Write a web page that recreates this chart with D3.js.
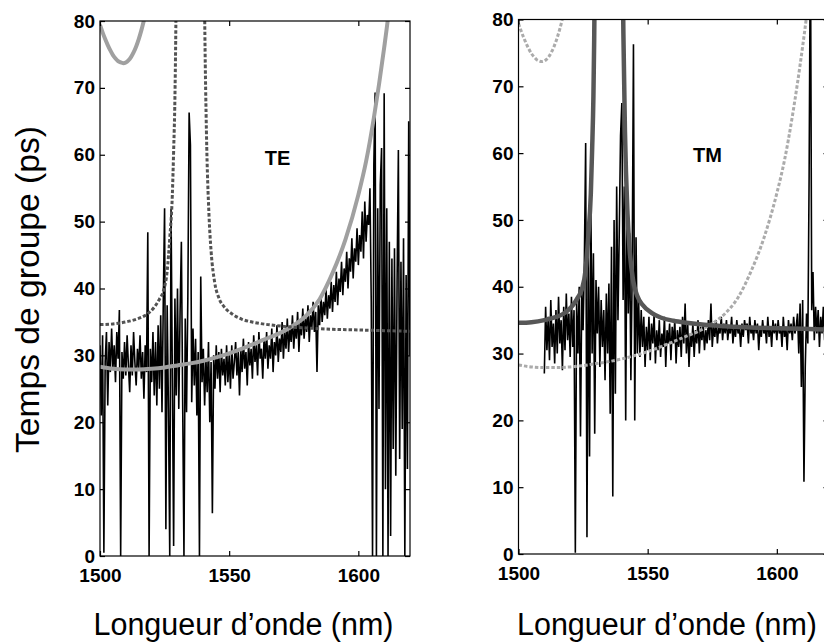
<!DOCTYPE html>
<html>
<head>
<meta charset="utf-8">
<script src="https://cdn.jsdelivr.net/npm/d3@7/dist/d3.min.js"></script>
<style>
  html, body { margin: 0; padding: 0; background: #fff; }
  svg { display: block; }
</style>
</head>
<body>
<svg id="chart" width="824" height="642"></svg>
<script>
// ---- axis ticks ----
const wavelengthDomain = [1500, 1620];
const delayDomain = [0, 80];
const wavelengthTicks = [1500, 1550, 1600];
const delayTicks = [0, 10, 20, 30, 40, 50, 60, 70, 80];

// ---- measured group delay (ps), sampled every 0.5 nm ----
const sampleStep = 0.5;
const teStart = 1500;
const teMeasured = [
  31.5, 21.0, 33.0, 0.5, 29.0, 33.5, 22.5, 32.0, 27.5, 34.0,
  28.0, 31.5, 26.0, 33.5, 29.5, 36.8, 0.0, 30.5, 26.5, 32.0,
  27.0, 33.0, 28.5, 24.5, 31.5, 27.0, 33.5, 29.0, 25.5, 31.0,
  28.0, 33.0, 26.5, 30.5, 23.5, 31.5, 27.5, 48.4, 0.0, 31.0,
  26.0, 33.5, 24.0, 32.0, 22.5, 34.5, 25.0, 36.0, 21.5, 38.0,
  52.0, 4.0, 37.5, 22.0, 0.0, 51.9, 27.0, 1.5, 38.5, 24.0,
  40.0, 22.0, 36.5, 47.0, 23.0, 0.0, 35.5, 21.5, 38.5, 66.3,
  61.5, 23.0, 34.0, 25.5, 32.5, 21.0, 30.5, 0.0, 41.8, 26.0,
  31.0, 22.5, 29.5, 24.5, 32.0, 20.0, 29.0, 6.4, 30.0, 25.0,
  31.5, 26.5, 30.5, 24.5, 31.0, 27.0, 29.5, 25.5, 31.5, 26.0,
  30.0, 25.0, 31.5, 26.5, 29.0, 32.0, 27.0, 30.5, 24.0, 31.0,
  27.5, 32.5, 28.0, 30.5, 25.5, 32.0, 28.5, 31.0, 26.5, 33.0,
  29.0, 31.5, 27.0, 33.5, 29.5, 31.0, 26.5, 32.5, 29.5, 33.5,
  28.0, 31.5, 29.5, 34.0, 27.5, 32.0, 30.0, 34.5, 29.0, 32.5,
  30.5, 35.0, 29.5, 33.5, 31.0, 35.5, 30.5, 34.0, 32.0, 36.0,
  31.0, 34.5, 32.5, 36.5, 30.5, 35.0, 33.0, 37.0, 32.5, 35.5,
  33.5, 37.5, 32.0, 36.0, 34.0, 38.0, 33.5, 36.5, 27.5, 37.5,
  34.5, 39.0, 35.0, 38.0, 36.0, 40.0, 35.5, 39.0, 37.0, 41.0,
  36.5, 40.5, 38.0, 42.5, 37.5, 41.5, 39.5, 44.0, 39.0, 43.0,
  41.0, 45.5, 40.0, 44.5, 42.5, 47.5, 41.5, 46.0, 44.0, 49.0,
  43.5, 48.0, 45.5, 51.5, 44.5, 53.0, 47.0, 51.0, 49.5, 55.0,
  38.0, 0.0, 58.5, 69.3, 0.0, 52.0, 22.0, 55.5, 61.0, 0.0,
  69.2, 10.0, 52.0, 0.0, 47.0, 3.0, 44.5, 16.0, 46.0, 12.0,
  41.0, 60.7, 14.5, 44.0, 19.0, 47.5, 0.0, 42.0, 13.0, 65.0,
  30.0
];

const tmStart = 1510;
const tmMeasured = [
  27.0, 37.0, 30.5, 35.5, 29.0, 38.0, 31.0, 34.5, 28.5, 36.5,
  30.0, 38.5, 31.5, 35.0, 27.5, 37.0, 30.5, 39.0, 32.0, 36.0,
  29.5, 38.5, 31.0, 36.5, 0.2, 38.0, 30.0, 40.0, 17.6, 39.5,
  33.5, 44.0, 61.5, 2.5, 47.0, 14.6, 52.6, 30.0, 45.0, 18.0,
  41.0, 33.0, 40.0, 28.0, 38.0, 31.0, 36.5, 26.0, 39.0, 30.0,
  40.5, 21.0, 46.0, 8.6, 50.0, 24.0, 55.0, 35.0, 48.0, 62.6,
  67.5, 38.0, 55.0, 20.0, 53.0, 36.0, 48.0, 26.0, 42.0, 76.3,
  20.0, 47.4, 30.0, 38.0, 29.5, 36.5, 31.0, 35.5, 28.0, 34.0,
  30.5, 35.5, 29.0, 34.5, 31.5, 36.0, 28.5, 33.5, 30.5, 35.0,
  29.5, 33.0, 31.0, 35.5, 28.0, 33.5, 31.5, 34.5, 29.0, 34.0,
  31.5, 35.0, 28.5, 33.5, 31.0, 34.0, 29.5, 35.5, 31.5, 37.5,
  30.0, 34.5, 28.0, 33.0, 31.0, 34.5, 29.5, 33.5, 31.5, 35.0,
  30.0, 34.0, 32.0, 34.5, 30.5, 33.5, 31.5, 35.0, 32.0, 37.5,
  31.0, 34.0, 32.5, 35.0, 31.5, 34.0, 33.0, 35.5, 32.0, 34.5,
  33.0, 35.0, 32.0, 34.0, 33.0, 35.5, 31.5, 34.0, 32.5, 35.0,
  33.0, 34.0, 31.0, 34.5, 32.5, 35.0, 33.5, 34.5, 31.5, 35.5,
  33.0, 34.0, 32.0, 35.0, 33.0, 34.5, 30.5, 34.0, 32.5, 35.0,
  33.0, 34.0, 31.5, 35.5, 32.5, 34.0, 31.0, 35.0, 33.0, 34.5,
  32.0, 35.0, 33.0, 34.0, 31.0, 35.5, 32.5, 34.0, 30.5, 35.0,
  33.0, 34.5, 32.0, 35.5, 33.0, 34.0, 36.0, 30.0, 37.5, 25.0,
  38.0, 10.8, 28.0, 36.0, 31.5, 56.6, 95.0, 36.5, 42.2, 32.0,
  37.0, 33.0, 36.5, 31.0, 35.5, 33.0, 37.0, 32.0, 35.0, 30.5,
  34.5
];

// ---- model curves [wavelength nm, group delay ps] ----
const teModelUpper = [
  [1500, 79.4], [1501, 78.3], [1502, 77.3], [1503, 76.4], [1504, 75.6],
  [1505, 74.9], [1506, 74.4], [1507, 74.0], [1508, 73.8], [1509, 73.7],
  [1510, 73.8], [1511, 74.1], [1512, 74.6], [1513, 75.3], [1514, 76.2],
  [1515, 77.3], [1516, 78.6], [1517, 80.1], [1518, 81.8]
];
const teModelLower = [
  [1500, 28.3], [1505, 28.0], [1510, 27.9], [1515, 27.9], [1520, 28.0],
  [1525, 28.2], [1530, 28.5], [1535, 28.8], [1540, 29.2], [1545, 29.7],
  [1550, 30.3], [1555, 31.0], [1560, 31.8], [1565, 32.6], [1570, 33.4],
  [1575, 34.5], [1580, 36.0], [1585, 38.4], [1590, 42.3], [1595, 47.3],
  [1600, 54.0], [1603, 59.0], [1606, 65.5], [1608, 70.5], [1610, 76.0],
  [1611.5, 80.5], [1612.5, 84.0]
];
const tmModelLeft = [
  [1500, 34.6], [1505, 34.7], [1510, 35.0], [1514, 35.4], [1518, 36.1],
  [1521, 37.2], [1523, 38.4], [1524.5, 39.6], [1526, 42.6], [1527, 47.5],
  [1528, 54.0], [1528.5, 60.5], [1529, 68.5], [1529.3, 77.0], [1529.5, 85.0]
];
const tmModelRight = [
  [1540.4, 85.0], [1540.6, 78.0], [1541.2, 63.4], [1542.2, 50.9], [1543, 45.6],
  [1544.4, 40.9], [1546, 38.6], [1548, 37.3], [1551.5, 36.1], [1555, 35.4],
  [1560, 34.9], [1565, 34.6], [1572, 34.3], [1580, 34.1], [1590, 33.9],
  [1600, 33.8], [1610, 33.7], [1620, 33.6]
];

const panelLabels = ["TE", "TM"];
const xTitle = "Longueur d\u2019onde (nm)";
const yTitle = "Temps de groupe (ps)";

// ---- layout ----
const svg = d3.select("#chart");
const fontFamily = "'Liberation Sans', Arial, Helvetica, sans-serif";

const panels = [
  {
    id: "te", label: panelLabels[0], left: 100, right: 410, top: 21, bottom: 556,
    labelPos: [277.5, 165], titleX: 243.5,
    measured: teMeasured, start: teStart,
    curves: [
      { data: teModelUpper, color: "#a0a0a0", width: 4, dash: null },
      { data: teModelLower, color: "#a0a0a0", width: 4, dash: null },
      { data: tmModelLeft, color: "#535353", width: 3, dash: "3.5,2" },
      { data: tmModelRight, color: "#535353", width: 3, dash: "3.5,2" }
    ]
  },
  {
    id: "tm", label: panelLabels[1], left: 518.5, right: 828.5, top: 19.5, bottom: 554,
    labelPos: [707.5, 161.5], titleX: 667,
    measured: tmMeasured, start: tmStart,
    curves: [
      { data: teModelUpper, color: "#ababab", width: 3, dash: "3.5,2" },
      { data: teModelLower, color: "#ababab", width: 3, dash: "3.5,2" },
      { data: tmModelLeft, color: "#575757", width: 4.5, dash: null },
      { data: tmModelRight, color: "#575757", width: 4.5, dash: null }
    ]
  }
];

panels.forEach(p => {
  const x = d3.scaleLinear().domain(wavelengthDomain).range([p.left, p.right]);
  const y = d3.scaleLinear().domain(delayDomain).range([p.bottom, p.top]);

  svg.append("clipPath").attr("id", "clip-" + p.id)
    .append("rect")
    .attr("x", p.left).attr("y", p.top)
    .attr("width", p.right - p.left).attr("height", p.bottom - p.top);

  const plot = svg.append("g").attr("clip-path", "url(#clip-" + p.id + ")");

  // measured trace
  const traceLine = d3.line()
    .x((d, i) => x(p.start + i * sampleStep))
    .y(d => y(d));
  plot.append("path")
    .datum(p.measured)
    .attr("d", traceLine)
    .attr("fill", "none")
    .attr("stroke", "#000")
    .attr("stroke-width", 1.6);

  // model curves
  const modelLine = d3.line()
    .x(d => x(d[0]))
    .y(d => y(d[1]))
    .curve(d3.curveMonotoneX);
  p.curves.forEach(c => {
    plot.append("path")
      .datum(c.data)
      .attr("d", modelLine)
      .attr("fill", "none")
      .attr("stroke", c.color)
      .attr("stroke-width", c.width)
      .attr("stroke-dasharray", c.dash)
      .attr("stroke-linecap", "butt");
  });

  // axes: inward ticks on all four sides
  const styleAxis = g => {
    g.select(".domain").remove();
    g.selectAll(".tick line").attr("stroke", "#000").attr("stroke-width", 1.2);
    g.selectAll(".tick text")
      .attr("fill", "#000")
      .style("font-family", fontFamily)
      .style("font-weight", "bold")
      .style("font-size", "19px");
  };

  svg.append("g")
    .attr("transform", `translate(0,${p.bottom})`)
    .call(d3.axisBottom(x).tickValues(wavelengthTicks).tickFormat(d3.format("d"))
      .tickSizeInner(-5).tickSizeOuter(0).tickPadding(12.5))
    .call(styleAxis);
  svg.append("g")
    .attr("transform", `translate(0,${p.top})`)
    .call(d3.axisTop(x).tickValues(wavelengthTicks).tickSizeInner(-5).tickSizeOuter(0).tickFormat(""))
    .call(styleAxis);
  svg.append("g")
    .attr("transform", `translate(${p.left},0)`)
    .call(d3.axisLeft(y).tickValues(delayTicks).tickFormat(d3.format("d"))
      .tickSizeInner(-5).tickSizeOuter(0).tickPadding(5))
    .call(styleAxis);
  svg.append("g")
    .attr("transform", `translate(${p.right},0)`)
    .call(d3.axisRight(y).tickValues(delayTicks).tickSizeInner(-5).tickSizeOuter(0).tickFormat(""))
    .call(styleAxis);

  // frame
  svg.append("rect")
    .attr("x", p.left).attr("y", p.top)
    .attr("width", p.right - p.left).attr("height", p.bottom - p.top)
    .attr("fill", "none").attr("stroke", "#000").attr("stroke-width", 1.2);

  // polarisation label
  svg.append("text")
    .attr("x", p.labelPos[0]).attr("y", p.labelPos[1])
    .attr("text-anchor", "middle")
    .style("font-family", fontFamily).style("font-weight", "bold").style("font-size", "20px")
    .text(p.label);

  // x title
  svg.append("text")
    .attr("x", p.titleX).attr("y", 635)
    .attr("text-anchor", "middle")
    .attr("textLength", 300).attr("lengthAdjust", "spacingAndGlyphs")
    .style("font-family", fontFamily).style("font-size", "31px")
    .text(xTitle);
});

// y title
svg.append("text")
  .attr("transform", "translate(38.5,289.5) rotate(-90)")
  .attr("text-anchor", "middle")
  .attr("textLength", 327).attr("lengthAdjust", "spacingAndGlyphs")
  .style("font-family", fontFamily).style("font-size", "32.5px")
  .text(yTitle);
</script>
</body>
</html>
